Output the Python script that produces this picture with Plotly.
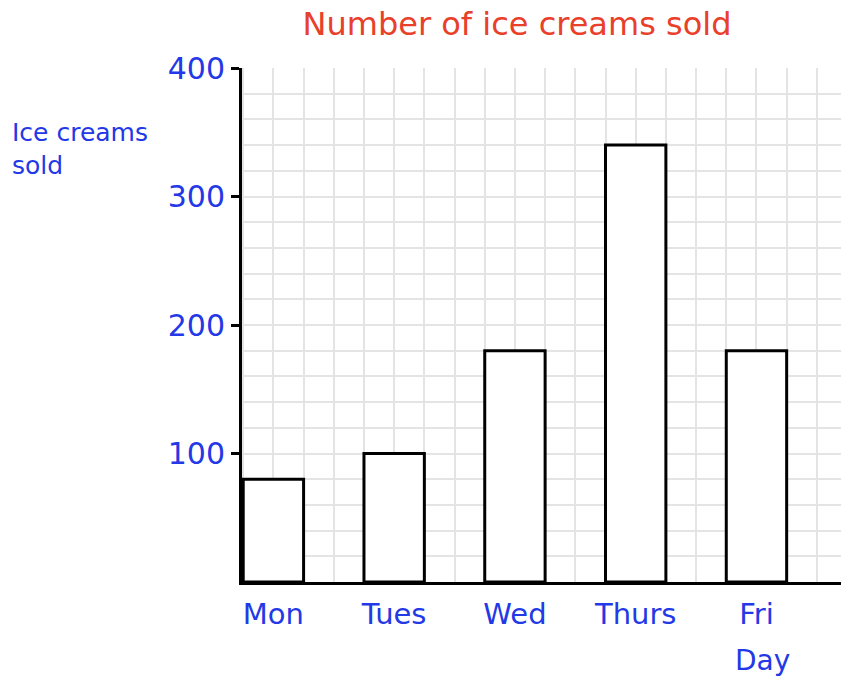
import plotly.graph_objects as go

days = ["Mon", "Tues", "Wed", "Thurs", "Fri"]
sold = [80, 100, 180, 340, 180]
y_ticks = [100, 200, 300, 400]

BLUE = "#2338e6"
RED = "#e8402a"
FONT = "DejaVu Sans, sans-serif"

W, H = 841, 679
L, R, T, B = 242, 0, 68, 97
PW, PH = W - L - R, H - T - B

x_pos = list(range(len(days)))

fig = go.Figure()
fig.add_trace(go.Bar(
    x=x_pos, y=sold, width=0.5,
    marker=dict(color="white", line=dict(color="black", width=3)),
    hoverinfo="x+y",
))

grid = "#e4e4e4"
fig.update_layout(
    width=W, height=H,
    margin=dict(l=L, r=R, t=T, b=B, autoexpand=False),
    paper_bgcolor="white", plot_bgcolor="white",
    showlegend=False,
    title=dict(text="Number of ice creams sold", x=517 / W, xanchor="center",
               y=1 - 24 / H, yanchor="middle",
               font=dict(family=FONT, size=32, color=RED)),
    xaxis=dict(
        range=[-0.26, 4.7], tickmode="array", tickvals=x_pos, ticktext=days,
        showgrid=True, gridcolor=grid, gridwidth=2,
        minor=dict(dtick=0.25, tick0=0, showgrid=True, gridcolor=grid, gridwidth=2, ticks=""),
        ticks="", showline=True, linecolor="black", linewidth=3,
        zeroline=False, ticklabelstandoff=4,
        tickfont=dict(family=FONT, size=29, color=BLUE),
    ),
    yaxis=dict(
        range=[0, 400], tickmode="array", tickvals=y_ticks,
        showgrid=True, gridcolor=grid, gridwidth=2,
        minor=dict(dtick=20, tick0=0, showgrid=True, gridcolor=grid, gridwidth=2),
        ticks="outside", ticklen=8, tickwidth=3, tickcolor="black",
        showline=True, linecolor="black", linewidth=3, zeroline=False,
        tickfont=dict(family=FONT, size=30, color=BLUE),
    ),
    annotations=[
        dict(text="Ice creams<br>sold", x=(10 - L) / PW, xref="paper", xanchor="left",
             y=(T + PH - 116) / PH, yref="paper", yanchor="top", align="left", showarrow=False,
             font=dict(family=FONT, size=25, color=BLUE)),
        dict(text="Day", x=4.05, xref="x", xanchor="center",
             y=-(660 - (T + PH)) / PH, yref="paper", yanchor="middle", showarrow=False,
             font=dict(family=FONT, size=28, color=BLUE)),
    ],
)

fig.write_html("out.html", config={"displayModeBar": False},
               post_script="document.body.style.margin='0';document.body.style.padding='0';")
